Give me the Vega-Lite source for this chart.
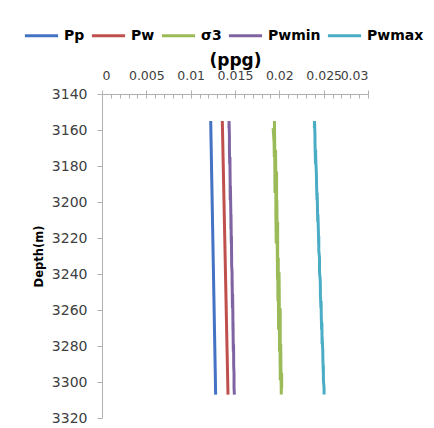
{
  "$schema": "https://vega.github.io/schema/vega-lite/v6.json",
  "width": 266,
  "height": 324,
  "autosize": {"type": "none"},
  "padding": {"left": 102, "top": 94, "right": 66, "bottom": 10},
  "config": {"view": {"stroke": null}, "font": "DejaVu Sans"},
  "data": {"values": [
    {"depth": 3155, "Pp": 0.01226, "Pw": 0.01357, "σ3": 0.01945, "Pwmin": 0.01433, "Pwmax": 0.02397},
    {"depth": 3159, "σ3": 0.01930, "Pwmin": 0.01432, "Pwmax": 0.02395},
    {"depth": 3163, "σ3": 0.01947, "Pwmin": 0.01437, "Pwmax": 0.02402},
    {"depth": 3167, "σ3": 0.01941, "Pwmin": 0.01437, "Pwmax": 0.02402},
    {"depth": 3171, "σ3": 0.01958, "Pwmin": 0.01437, "Pwmax": 0.02410},
    {"depth": 3175, "σ3": 0.01943, "Pwmin": 0.01443, "Pwmax": 0.02410},
    {"depth": 3179, "σ3": 0.01959, "Pwmin": 0.01440, "Pwmax": 0.02408},
    {"depth": 3183, "σ3": 0.01969, "Pwmin": 0.01444, "Pwmax": 0.02417},
    {"depth": 3187, "σ3": 0.01954, "Pwmin": 0.01445, "Pwmax": 0.02419},
    {"depth": 3191, "σ3": 0.01961, "Pwmin": 0.01448, "Pwmax": 0.02420},
    {"depth": 3195, "σ3": 0.01951, "Pwmin": 0.01447, "Pwmax": 0.02427},
    {"depth": 3199, "σ3": 0.01972, "Pwmin": 0.01446, "Pwmax": 0.02425},
    {"depth": 3203, "σ3": 0.01969, "Pwmin": 0.01452, "Pwmax": 0.02430},
    {"depth": 3207, "σ3": 0.01961, "Pwmin": 0.01455, "Pwmax": 0.02435},
    {"depth": 3211, "σ3": 0.01981, "Pwmin": 0.01454, "Pwmax": 0.02433},
    {"depth": 3215, "σ3": 0.01970, "Pwmin": 0.01454, "Pwmax": 0.02440},
    {"depth": 3219, "σ3": 0.01981, "Pwmin": 0.01460, "Pwmax": 0.02445},
    {"depth": 3223, "σ3": 0.01965, "Pwmin": 0.01458, "Pwmax": 0.02443},
    {"depth": 3227, "σ3": 0.01981, "Pwmin": 0.01461, "Pwmax": 0.02445},
    {"depth": 3231, "σ3": 0.01988, "Pwmin": 0.01462, "Pwmax": 0.02453},
    {"depth": 3235, "σ3": 0.01978, "Pwmin": 0.01462, "Pwmax": 0.02453},
    {"depth": 3239, "σ3": 0.01997, "Pwmin": 0.01467, "Pwmax": 0.02453},
    {"depth": 3243, "σ3": 0.01979, "Pwmin": 0.01468, "Pwmax": 0.02461},
    {"depth": 3247, "σ3": 0.01989, "Pwmin": 0.01467, "Pwmax": 0.02463},
    {"depth": 3251, "σ3": 0.01999, "Pwmin": 0.01473, "Pwmax": 0.02463},
    {"depth": 3255, "σ3": 0.01984, "Pwmin": 0.01472, "Pwmax": 0.02471},
    {"depth": 3259, "σ3": 0.02010, "Pwmin": 0.01471, "Pwmax": 0.02469},
    {"depth": 3263, "σ3": 0.01994, "Pwmin": 0.01476, "Pwmax": 0.02473},
    {"depth": 3267, "σ3": 0.02005, "Pwmin": 0.01478, "Pwmax": 0.02480},
    {"depth": 3271, "σ3": 0.01991, "Pwmin": 0.01477, "Pwmax": 0.02477},
    {"depth": 3275, "σ3": 0.02007, "Pwmin": 0.01479, "Pwmax": 0.02483},
    {"depth": 3279, "σ3": 0.02016, "Pwmin": 0.01484, "Pwmax": 0.02482},
    {"depth": 3283, "σ3": 0.02002, "Pwmin": 0.01481, "Pwmax": 0.02490},
    {"depth": 3287, "σ3": 0.02017, "Pwmin": 0.01485, "Pwmax": 0.02491},
    {"depth": 3291, "σ3": 0.02009, "Pwmin": 0.01485, "Pwmax": 0.02497},
    {"depth": 3295, "σ3": 0.02026, "Pwmin": 0.01489, "Pwmax": 0.02496},
    {"depth": 3299, "σ3": 0.02010, "Pwmin": 0.01489, "Pwmax": 0.02497},
    {"depth": 3303, "σ3": 0.02027, "Pwmin": 0.01489, "Pwmax": 0.02504},
    {"depth": 3307, "Pp": 0.01282, "Pw": 0.01421, "σ3": 0.02022, "Pwmin": 0.01493, "Pwmax": 0.02505}
  ]},
  "transform": [{"fold": ["Pp", "Pw", "σ3", "Pwmin", "Pwmax"], "as": ["series", "value"]}],
  "encoding": {
    "y": {
      "field": "depth", "type": "quantitative",
      "scale": {"domain": [3140, 3320], "reverse": true, "nice": false},
      "axis": {
        "title": "Depth(m)", "format": "d", "labelOverlap": false,
        "values": [3140, 3160, 3180, 3200, 3220, 3240, 3260, 3280, 3300, 3320],
        "grid": false, "tickSize": 5, "labelPadding": 10,
        "labelFontSize": 14, "labelColor": "#404040", "labelFont": "DejaVu Sans",
        "domainColor": "#b0b0b0", "tickColor": "#b0b0b0",
        "titleFontSize": 11.5, "titleFontWeight": "bold", "titleColor": "#000000",
        "titlePadding": 7, "titleFont": "DejaVu Sans"
      }
    }
  },
  "layer": [
    {
      "mark": {"type": "line", "strokeWidth": 3},
      "encoding": {
        "x": {
          "field": "value", "type": "quantitative",
          "scale": {"domain": [0, 0.03], "nice": false},
          "axis": {
            "orient": "top", "title": null,
            "values": [0, 0.005, 0.01, 0.015, 0.02, 0.025, 0.03],
            "format": "~g", "grid": false, "labelOverlap": false,
            "tickSize": 4, "labelPadding": 8,
            "labelFontSize": 12.5, "labelColor": "#404040", "labelFont": "DejaVu Sans",
            "domainColor": "#b0b0b0", "tickColor": "#b0b0b0"
          }
        },
        "color": {
          "field": "series", "type": "nominal",
          "scale": {
            "domain": ["Pp", "Pw", "σ3", "Pwmin", "Pwmax"],
            "range": ["#4472C4", "#C0504D", "#9BBB59", "#8064A2", "#4BACC6"]
          },
          "legend": {
            "orient": "none", "direction": "horizontal",
            "legendX": -79, "legendY": -77,
            "title": null, "symbolType": "stroke", "symbolSize": 1100,
            "symbolStrokeWidth": 3, "labelFontSize": 14, "labelFontWeight": "bold",
            "labelColor": "#000000", "labelFont": "DejaVu Sans",
            "columnPadding": 0, "labelOffset": 4
          }
        }
      }
    },
    {
      "mark": {"type": "point", "opacity": 0},
      "encoding": {
        "x": {
          "field": "value", "type": "quantitative",
          "axis": {
            "orient": "top", "title": "(ppg)", "labels": false, "domain": false, "grid": false,
            "values": [0.001, 0.002, 0.003, 0.004, 0.005, 0.006, 0.007, 0.008, 0.009, 0.01, 0.011, 0.012, 0.013, 0.014, 0.015, 0.016, 0.017, 0.018, 0.019, 0.02, 0.021, 0.022, 0.023, 0.024, 0.025, 0.026, 0.027, 0.028, 0.029, 0.03],
            "tickSize": -4, "tickColor": "#b0b0b0",
            "titleFontSize": 17, "titleFontWeight": "bold", "titleColor": "#000000",
            "titleBaseline": "middle", "titleY": -34, "titleFont": "DejaVu Sans"
          }
        }
      }
    }
  ],
  "resolve": {"axis": {"x": "independent"}}
}
